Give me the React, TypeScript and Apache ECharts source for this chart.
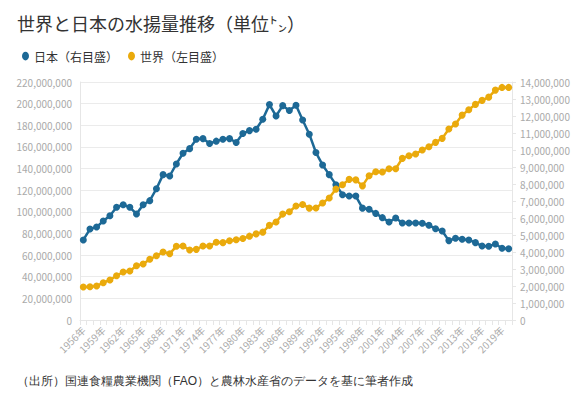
import React, { useEffect, useRef } from "react";
import * as echarts from "echarts";

const years: string[] = [];
for (let y = 1956; y <= 2020; y++) years.push(y + "年");

// 日本（右目盛、トン）
const japan = [
  4710000, 5350000, 5470000, 5820000, 6130000, 6630000, 6780000, 6630000, 6240000, 6780000,
  7020000, 7720000, 8550000, 8470000, 9180000, 9810000, 10080000, 10630000, 10670000, 10380000,
  10520000, 10630000, 10670000, 10440000, 10970000, 11140000, 11220000, 11810000, 12670000, 12000000,
  12610000, 12320000, 12630000, 11760000, 10930000, 9850000, 9120000, 8550000, 7960000, 7370000,
  7290000, 7290000, 6580000, 6510000, 6270000, 6020000, 5760000, 6000000, 5710000, 5710000,
  5710000, 5690000, 5570000, 5370000, 5240000, 4670000, 4810000, 4750000, 4710000, 4550000,
  4350000, 4340000, 4470000, 4220000, 4190000,
];

// 世界（左目盛、トン）
const world = [
  30500000, 30800000, 31400000, 34500000, 37000000, 40900000, 44400000, 45300000, 50200000, 51700000,
  56100000, 59400000, 62800000, 61300000, 68100000, 68400000, 64700000, 65300000, 68400000, 68400000,
  71800000, 71500000, 73300000, 74200000, 75300000, 77500000, 79600000, 81200000, 87500000, 90600000,
  97900000, 100100000, 105400000, 106800000, 103400000, 103500000, 108100000, 112700000, 121000000, 125000000,
  130000000, 129500000, 124000000, 133400000, 137000000, 136800000, 139800000, 139800000, 149400000, 151800000,
  153400000, 157100000, 160200000, 164200000, 167900000, 176500000, 181100000, 189400000, 194300000, 199300000,
  203000000, 206000000, 212500000, 215000000, 215000000,
];

const titleText = "世界と日本の水揚量推移（単位㌧）";
const sourceText = "（出所）国連食糧農業機関（FAO）と農林水産省のデータを基に筆者作成";
const japanName = "日本（右目盛）";
const worldName = "世界（左目盛）";

const FONT = "'Noto Sans CJK JP', 'Noto Sans', sans-serif";
const BLUE = "#1d6996";
const YELLOW = "#eaaa0c";
const LABEL = "#aaaaaa";
const LINE = "#e6e6e6";

const fmt = (v: number) => v.toLocaleString("en-US");
const legendIcon = "path://M4,0 C6.2,0 8,2.2 8,5 C8,7.8 6.2,10 4,10 C1.8,10 0,7.8 0,5 C0,2.2 1.8,0 4,0 Z";

export default function App() {
  const ref = useRef<HTMLDivElement>(null);
  useEffect(() => {
    if (!ref.current) return;
    const chart = echarts.init(ref.current, undefined, { renderer: "svg" });
    chart.setOption({
      animation: false,
      textStyle: { fontFamily: FONT },
      title: {
        text: titleText,
        left: 12,
        top: 9,
        textStyle: { fontSize: 18, fontWeight: "normal", color: "#333", fontFamily: FONT },
      },
      legend: {
        left: 17,
        top: 45,
        itemWidth: 7,
        itemHeight: 10,
        itemGap: 10,
        icon: legendIcon,
        textStyle: { fontSize: 12, color: "#333", fontFamily: FONT },
        data: [japanName, worldName],
      },
      grid: { left: 80, right: 69, top: 82, bottom: 76 },
      xAxis: {
        type: "category",
        data: years,
        boundaryGap: true,
        axisLine: { lineStyle: { color: LINE } },
        axisTick: { show: true, interval: 0, length: 5, lineStyle: { color: LINE } },
        axisLabel: { interval: 2, rotate: 45, color: LABEL, fontSize: 10, margin: 8, fontFamily: FONT },
        splitLine: { show: false },
      },
      yAxis: [
        {
          type: "value",
          min: 0,
          max: 220000000,
          interval: 20000000,
          axisLine: { show: true, lineStyle: { color: LINE } },
          axisTick: { show: false },
          axisLabel: { color: LABEL, fontSize: 10, margin: 8, formatter: fmt, fontFamily: FONT },
          splitLine: { show: true, lineStyle: { color: "#ebebeb" } },
        },
        {
          type: "value",
          min: 0,
          max: 14000000,
          interval: 1000000,
          position: "right",
          axisLine: { show: true, lineStyle: { color: LINE } },
          axisTick: { show: true, length: 4, lineStyle: { color: LINE } },
          axisLabel: { color: LABEL, fontSize: 10, margin: 8, formatter: fmt, fontFamily: FONT },
          splitLine: { show: false },
        },
      ],
      series: [
        {
          name: japanName,
          type: "line",
          yAxisIndex: 1,
          data: japan,
          symbol: "circle",
          symbolSize: 7,
          showAllSymbol: true,
          lineStyle: { width: 2.5, color: BLUE },
          itemStyle: { color: BLUE },
        },
        {
          name: worldName,
          type: "line",
          yAxisIndex: 0,
          data: world,
          symbol: "circle",
          symbolSize: 7,
          showAllSymbol: true,
          lineStyle: { width: 2.5, color: YELLOW },
          itemStyle: { color: YELLOW },
        },
      ],
      graphic: [
        {
          type: "text",
          left: 17,
          top: 375,
          style: { text: sourceText, fontSize: 12, fill: "#333", font: "12px " + FONT },
        },
      ],
    });
    return () => chart.dispose();
  }, []);
  return (
    <div
      ref={ref}
      style={{ position: "absolute", left: 0, top: 0, width: 581, height: 396, background: "#fff" }}
    />
  );
}
